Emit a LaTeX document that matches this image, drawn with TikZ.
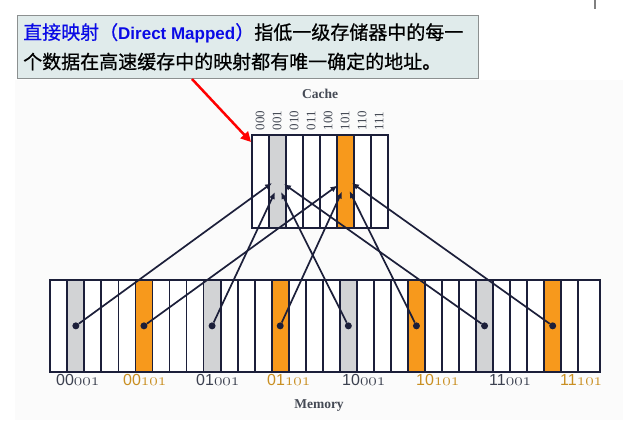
\documentclass[tikz,border=0pt]{standalone}
\usepackage{fontspec}
\setmainfont{Liberation Serif}
\newfontfamily\cjk[FakeBold=0.7]{Noto Sans CJK SC}
\newfontfamily\arialf{Liberation Sans}
\usetikzlibrary{arrows.meta}
\definecolor{navy}{HTML}{1C1F3A}
\definecolor{cgray}{HTML}{D2D3D5}
\definecolor{corange}{HTML}{F7991C}
\definecolor{lgray}{HTML}{3C4150}
\definecolor{lorange}{HTML}{C98F22}
\definecolor{boxfill}{HTML}{E0EBEB}
\definecolor{boxline}{HTML}{8C9090}
\definecolor{ttl}{HTML}{454A55}
\definecolor{tblue}{HTML}{0A0AE6}
\definecolor{band}{HTML}{FBFBFB}
\begin{document}
\begin{tikzpicture}[x=1pt,y=-1pt,
  cellbox/.style={draw=navy, line width=1.8pt, inner sep=0pt, outer sep=0pt, anchor=north west},
  dotnode/.style={circle, fill=navy, inner sep=0pt, minimum size=7pt},
  conn/.style={draw=navy, line width=1.7pt, -{Latex[length=7pt,width=6pt]}},
  redarrow/.style={draw=red, line width=2.5pt, -{Triangle[length=10pt,width=10pt]}},
  idx/.style={rotate=90, anchor=west, inner sep=0pt, text=ttl, font=\fontsize{13}{13}\selectfont},
  ttlfont/.style={text=ttl, font=\bfseries\fontsize{13.5}{13.5}\selectfont, inner sep=0pt},
  memlbl/.style={anchor=base west, inner sep=0pt}
  ]
\useasboundingbox (0,0) rectangle (623,420);
\fill[white] (0,0) rectangle (623,420);
% faint background band of the figure
\fill[band] (15,80) rectangle (623,420);
% small tick at top right
\draw[gray, line width=1.3pt] (595,0) -- (595,9);

% callout box
\node[draw=boxline, line width=1pt, fill=boxfill, minimum width=461pt, minimum height=63pt, anchor=north west, inner sep=0pt] (box) at (17,15) {};
\node[anchor=west, inner sep=0pt] (l1) at (23,33) {{\cjk\fontsize{19}{19}\selectfont\color{tblue}直接映射（}{\arialf\bfseries\fontsize{17}{17}\selectfont\color{tblue}Direct Mapped}{\cjk\fontsize{19}{19}\selectfont\color{tblue}）}{\cjk\fontsize{19}{19}\selectfont 指低一级存储器中的每一}};
\node[anchor=west, inner sep=0pt] (l2) at (23,61.5) {\cjk\fontsize{19}{19}\selectfont 个数据在高速缓存中的映射都有唯一确定的地址。};

% cache
\node[ttlfont] (cachet) at (320,94) {Cache};
\foreach \i in {0,...,7}{
  \ifnum\i=1 \def\fc{cgray}\else\ifnum\i=5 \def\fc{corange}\else\def\fc{white}\fi\fi
  \node[cellbox, fill=\fc, minimum width=17pt, minimum height=92.7pt] (c\i) at ({251.7+17*\i},135) {};
}
\foreach \i/\t in {0/000,1/001,2/010,3/011,4/100,5/101,6/110,7/111}{
  \node[idx] (ix\i) at ({260.2+17*\i},130.5) {\t};
}

% memory
\foreach \i in {0,...,31}{
  \pgfmathtruncatemacro\r{mod(\i,8)}
  \pgfmathsetmacro\cw{\i==31 ? 21.77 : 17.03}
  \ifnum\r=1 \def\fc{cgray}\else\ifnum\r=5 \def\fc{corange}\else\def\fc{white}\fi\fi
  \node[cellbox, fill=\fc, minimum width=\cw pt, minimum height=91.7pt] (m\i) at ({50.3+17.03*\i},280) {};
}
\node[ttlfont] (memt) at (319,405.5) {Memory};

% dots
\foreach \i in {1,5,9,13,17,21,25,29}{
  \node[dotnode] (d\i) at (m\i.center) {};
}

% arrow tip targets
\coordinate (t1) at (272,183);
\coordinate (t9) at (275,192);
\coordinate (t17) at (281,192);
\coordinate (t25) at (284,184);
\coordinate (t5) at (337.5,185.5);
\coordinate (t13) at (342,191.5);
\coordinate (t21) at (349.5,191);
\coordinate (t29) at (352,183);
\foreach \i in {1,5,9,13,17,21,25,29}{
  \draw[conn] (d\i) -- (t\i);
}

% memory labels
\newcommand{\mlab}[3]{{\arialf\fontsize{16}{16}\selectfont\color{#1}#2}{\fontsize{17}{17}\selectfont\color{#1}$\mathnormal{#3}$}}
\node[memlbl] (a0) at (56,385) {\mlab{lgray}{00}{001}};
\node[memlbl] (a1) at (123,385) {\mlab{lorange}{00}{101}};
\node[memlbl] (a2) at (196,385) {\mlab{lgray}{01}{001}};
\node[memlbl] (a3) at (267,385) {\mlab{lorange}{01}{101}};
\node[memlbl] (a4) at (342,385) {\mlab{lgray}{10}{001}};
\node[memlbl] (a5) at (416,385) {\mlab{lorange}{10}{101}};
\node[memlbl] (a6) at (489,385) {\mlab{lgray}{11}{001}};
\node[memlbl] (a7) at (560,385) {\mlab{lorange}{11}{101}};

% red pointer
\coordinate (rs) at (192,79);
\coordinate (rt) at (251,142);
\draw[redarrow] (rs) -- (rt);
\end{tikzpicture}
\end{document}
